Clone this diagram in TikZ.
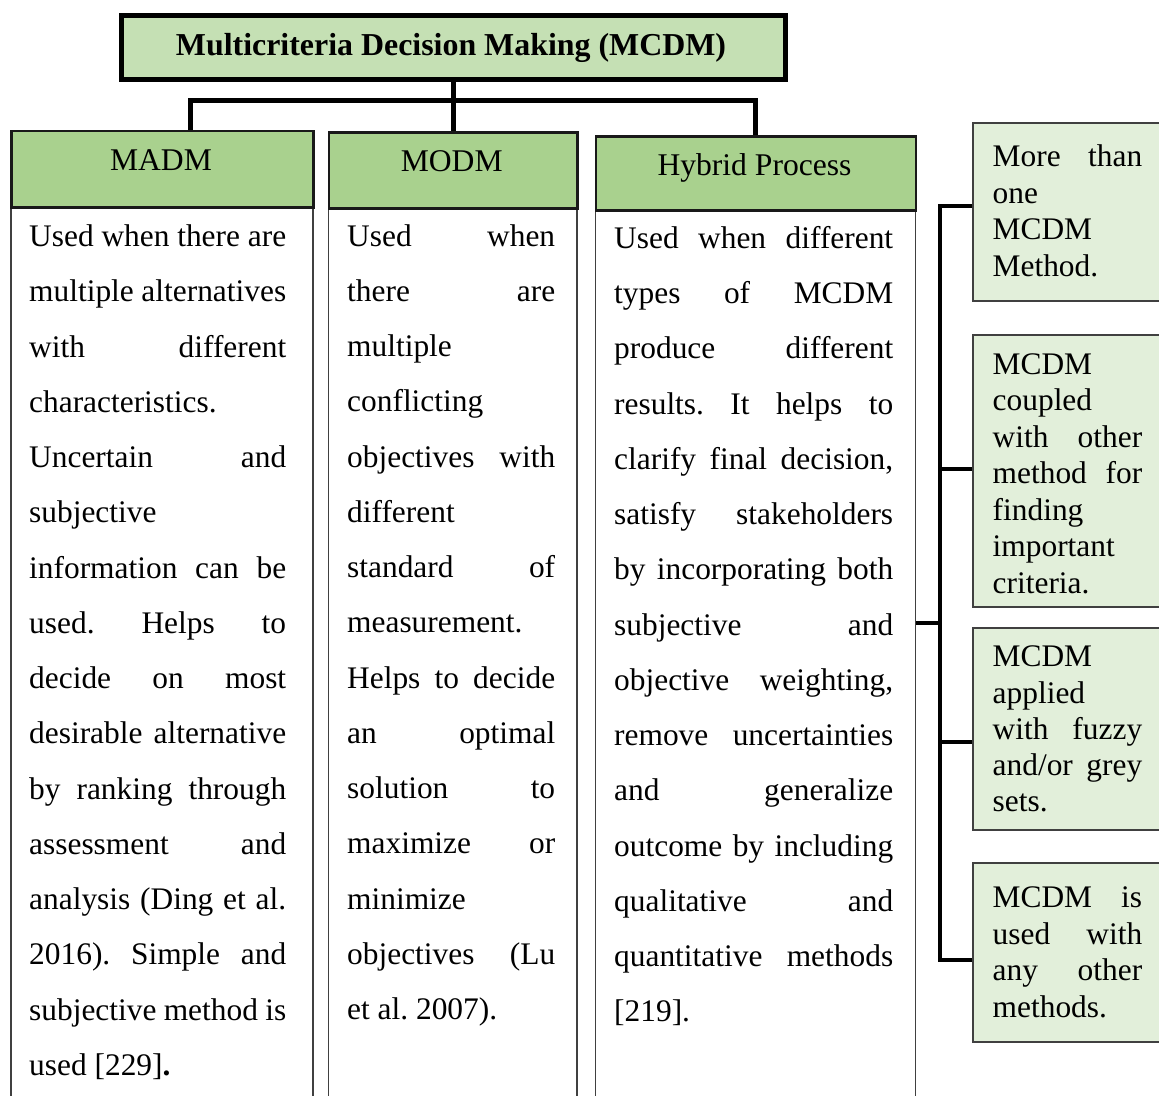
\documentclass[tikz,border=0pt]{standalone}
\usepackage{fontspec}
\setmainfont{Liberation Serif}
\usetikzlibrary{shadows}
\definecolor{titlegreen}{HTML}{C5E0B4}
\definecolor{hdrgreen}{HTML}{A9D18E}
\definecolor{sidegreen}{HTML}{E2EFDA}
\definecolor{bordergray}{HTML}{404040}
\frenchspacing
\begin{document}
\begin{tikzpicture}[x=1pt,y=-1pt,
  titlebox/.style={draw=black, line width=5pt, fill=titlegreen, inner sep=0pt, anchor=north west},
  hdrbox/.style={draw=black!90, line width=2.6pt, fill=hdrgreen, inner sep=0pt, anchor=north west},
  bodybox/.style={draw=bordergray, line width=1.8pt, fill=white, inner sep=0pt, anchor=north west},
  sidebox/.style={draw=bordergray, line width=1.6pt, fill=sidegreen, inner sep=0pt, anchor=north west,
     general shadow={fill=black!45, shadow xshift=1.4pt, shadow yshift=-1.4pt}},
  conn/.style={draw=black, line width=5pt, line join=miter},
  brk/.style={draw=black, line width=4pt, line join=miter},
  bt/.style={font=\fontsize{31.4pt}{36pt}\selectfont\frenchspacing, inner sep=0pt, anchor=base west},
  ht/.style={font=\fontsize{31.6pt}{36pt}\selectfont, inner sep=0pt, anchor=base},
  tt/.style={font=\fontsize{31.9pt}{36pt}\selectfont\bfseries, inner sep=0pt, anchor=base}]
\useasboundingbox (0,0) rectangle (1159,1095);
\clip (0,0) rectangle (1159,1095);
\fill[white] (0,0) rectangle (1159,1095);

% coordinates of the connector bus
\coordinate (busL) at (190,100);
\coordinate (busR) at (755,100);
\coordinate (t1) at (940,206);
\coordinate (t2) at (940,469);
\coordinate (t3) at (940,742);
\coordinate (t4) at (940,960);
\coordinate (th) at (940,623);

% body boxes
\node[bodybox, minimum width=302pt, minimum height=900pt] (madmB) at (10,206) {};
\node[bodybox, minimum width=248.5pt, minimum height=900pt] (modmB) at (327.5,207) {};
\node[bodybox, minimum width=320pt, minimum height=900pt] (hybB) at (594.5,209) {};

% header boxes
\node[hdrbox, minimum width=302pt, minimum height=76.5pt] (madmH) at (10,129.5) {};
\node[hdrbox, minimum width=248.5pt, minimum height=76pt] (modmH) at (327.5,131) {};
\node[hdrbox, minimum width=320pt, minimum height=74pt] (hybH) at (594.5,135) {};

% title
\node[titlebox, minimum width=664pt, minimum height=64pt] (title) at (119,12.5) {};

% side boxes
\node[sidebox, minimum width=200pt, minimum height=178pt] (side1) at (972,122) {};
\node[sidebox, minimum width=200pt, minimum height=272pt] (side2) at (972,334) {};
\node[sidebox, minimum width=200pt, minimum height=202pt] (side3) at (972,627) {};
\node[sidebox, minimum width=200pt, minimum height=179pt] (side4) at (972,862) {};

% connectors
\draw[conn] (title.south) -- (title.south |- modmH.north);
\draw[conn] (busL |- madmH.north) -- (busL) -- (busR) -- (busR |- hybH.north);
\draw[brk] (t1 -| side1.west) -- (t1) -- (t4) -- (t4 -| side4.west);
\draw[brk] (t2) -- (t2 -| side2.west);
\draw[brk] (t3) -- (t3 -| side3.west);
\draw[brk] (th -| hybB.east) -- (th);

% title and header texts
\node[tt] (titleT) at (451,55) {Multicriteria Decision Making (MCDM)};
\node[ht] (madmT) at (161,170) {MADM};
\node[ht] (modmT) at (451.75,171) {MODM};
\node[ht] (hybT) at (754.5,175) {Hybrid Process};

% MADM text
\foreach [count=\i] \m/\t in {s/Used when there are, s/multiple alternatives, s/with different,
  l/characteristics., s/Uncertain and, l/subjective, s/information can be, s/used. Helps to,
  s/decide on most, s/desirable alternative, s/by ranking through, s/assessment and,
  s/analysis (Ding et al., s/2016). Simple and, s/subjective method is, l/{used [229]\textbf{.}}}
  \node[bt] (madm-\i) at (29,{246.7+55.25*(\i-1)}) {\makebox[257pt][\m]{\t}};

% MODM text
\foreach [count=\i] \m/\t in {s/Used when, s/there are, l/multiple, l/conflicting,
  s/objectives with, l/different, s/standard of, l/measurement., s/Helps to decide,
  s/an optimal, s/solution to, s/maximize or, l/minimize, s/objectives (Lu, l/et al. 2007).}
  \node[bt] (modm-\i) at (347,{246+55.25*(\i-1)}) {\makebox[208pt][\m]{\t}};

% Hybrid text
\foreach [count=\i] \m/\t in {s/Used when different, s/types of MCDM, s/produce different,
  s/results. It helps to, s/{clarify final decision,}, s/satisfy stakeholders,
  s/by incorporating both, s/subjective and, s/{objective weighting,}, s/remove uncertainties,
  s/and generalize, s/outcome by including, s/qualitative and, s/quantitative methods, l/[219].}
  \node[bt] (hyb-\i) at (614,{248.3+55.25*(\i-1)}) {\makebox[279pt][\m]{\t}};

% side box texts
\foreach [count=\i] \m/\t in {s/More than, l/one, l/MCDM, l/Method.}
  \node[bt] (sa-\i) at (992.5,{166.7+36.5*(\i-1)}) {\makebox[149.5pt][\m]{\t}};
\foreach [count=\i] \m/\t in {l/MCDM, l/coupled, s/with other, s/method for, l/finding,
  l/important, l/criteria.}
  \node[bt] (sb-\i) at (992.5,{374+36.55*(\i-1)}) {\makebox[149.5pt][\m]{\t}};
\foreach [count=\i] \m/\t in {l/MCDM, l/applied, s/with fuzzy, s/{and/or grey}, l/sets.}
  \node[bt] (sc-\i) at (992.5,{666.7+36.3*(\i-1)}) {\makebox[149.5pt][\m]{\t}};
\foreach [count=\i] \m/\t in {s/MCDM is, s/used with, s/any other, l/methods.}
  \node[bt] (sd-\i) at (992.5,{907.5+36.5*(\i-1)}) {\makebox[149.5pt][\m]{\t}};
\end{tikzpicture}
\end{document}
